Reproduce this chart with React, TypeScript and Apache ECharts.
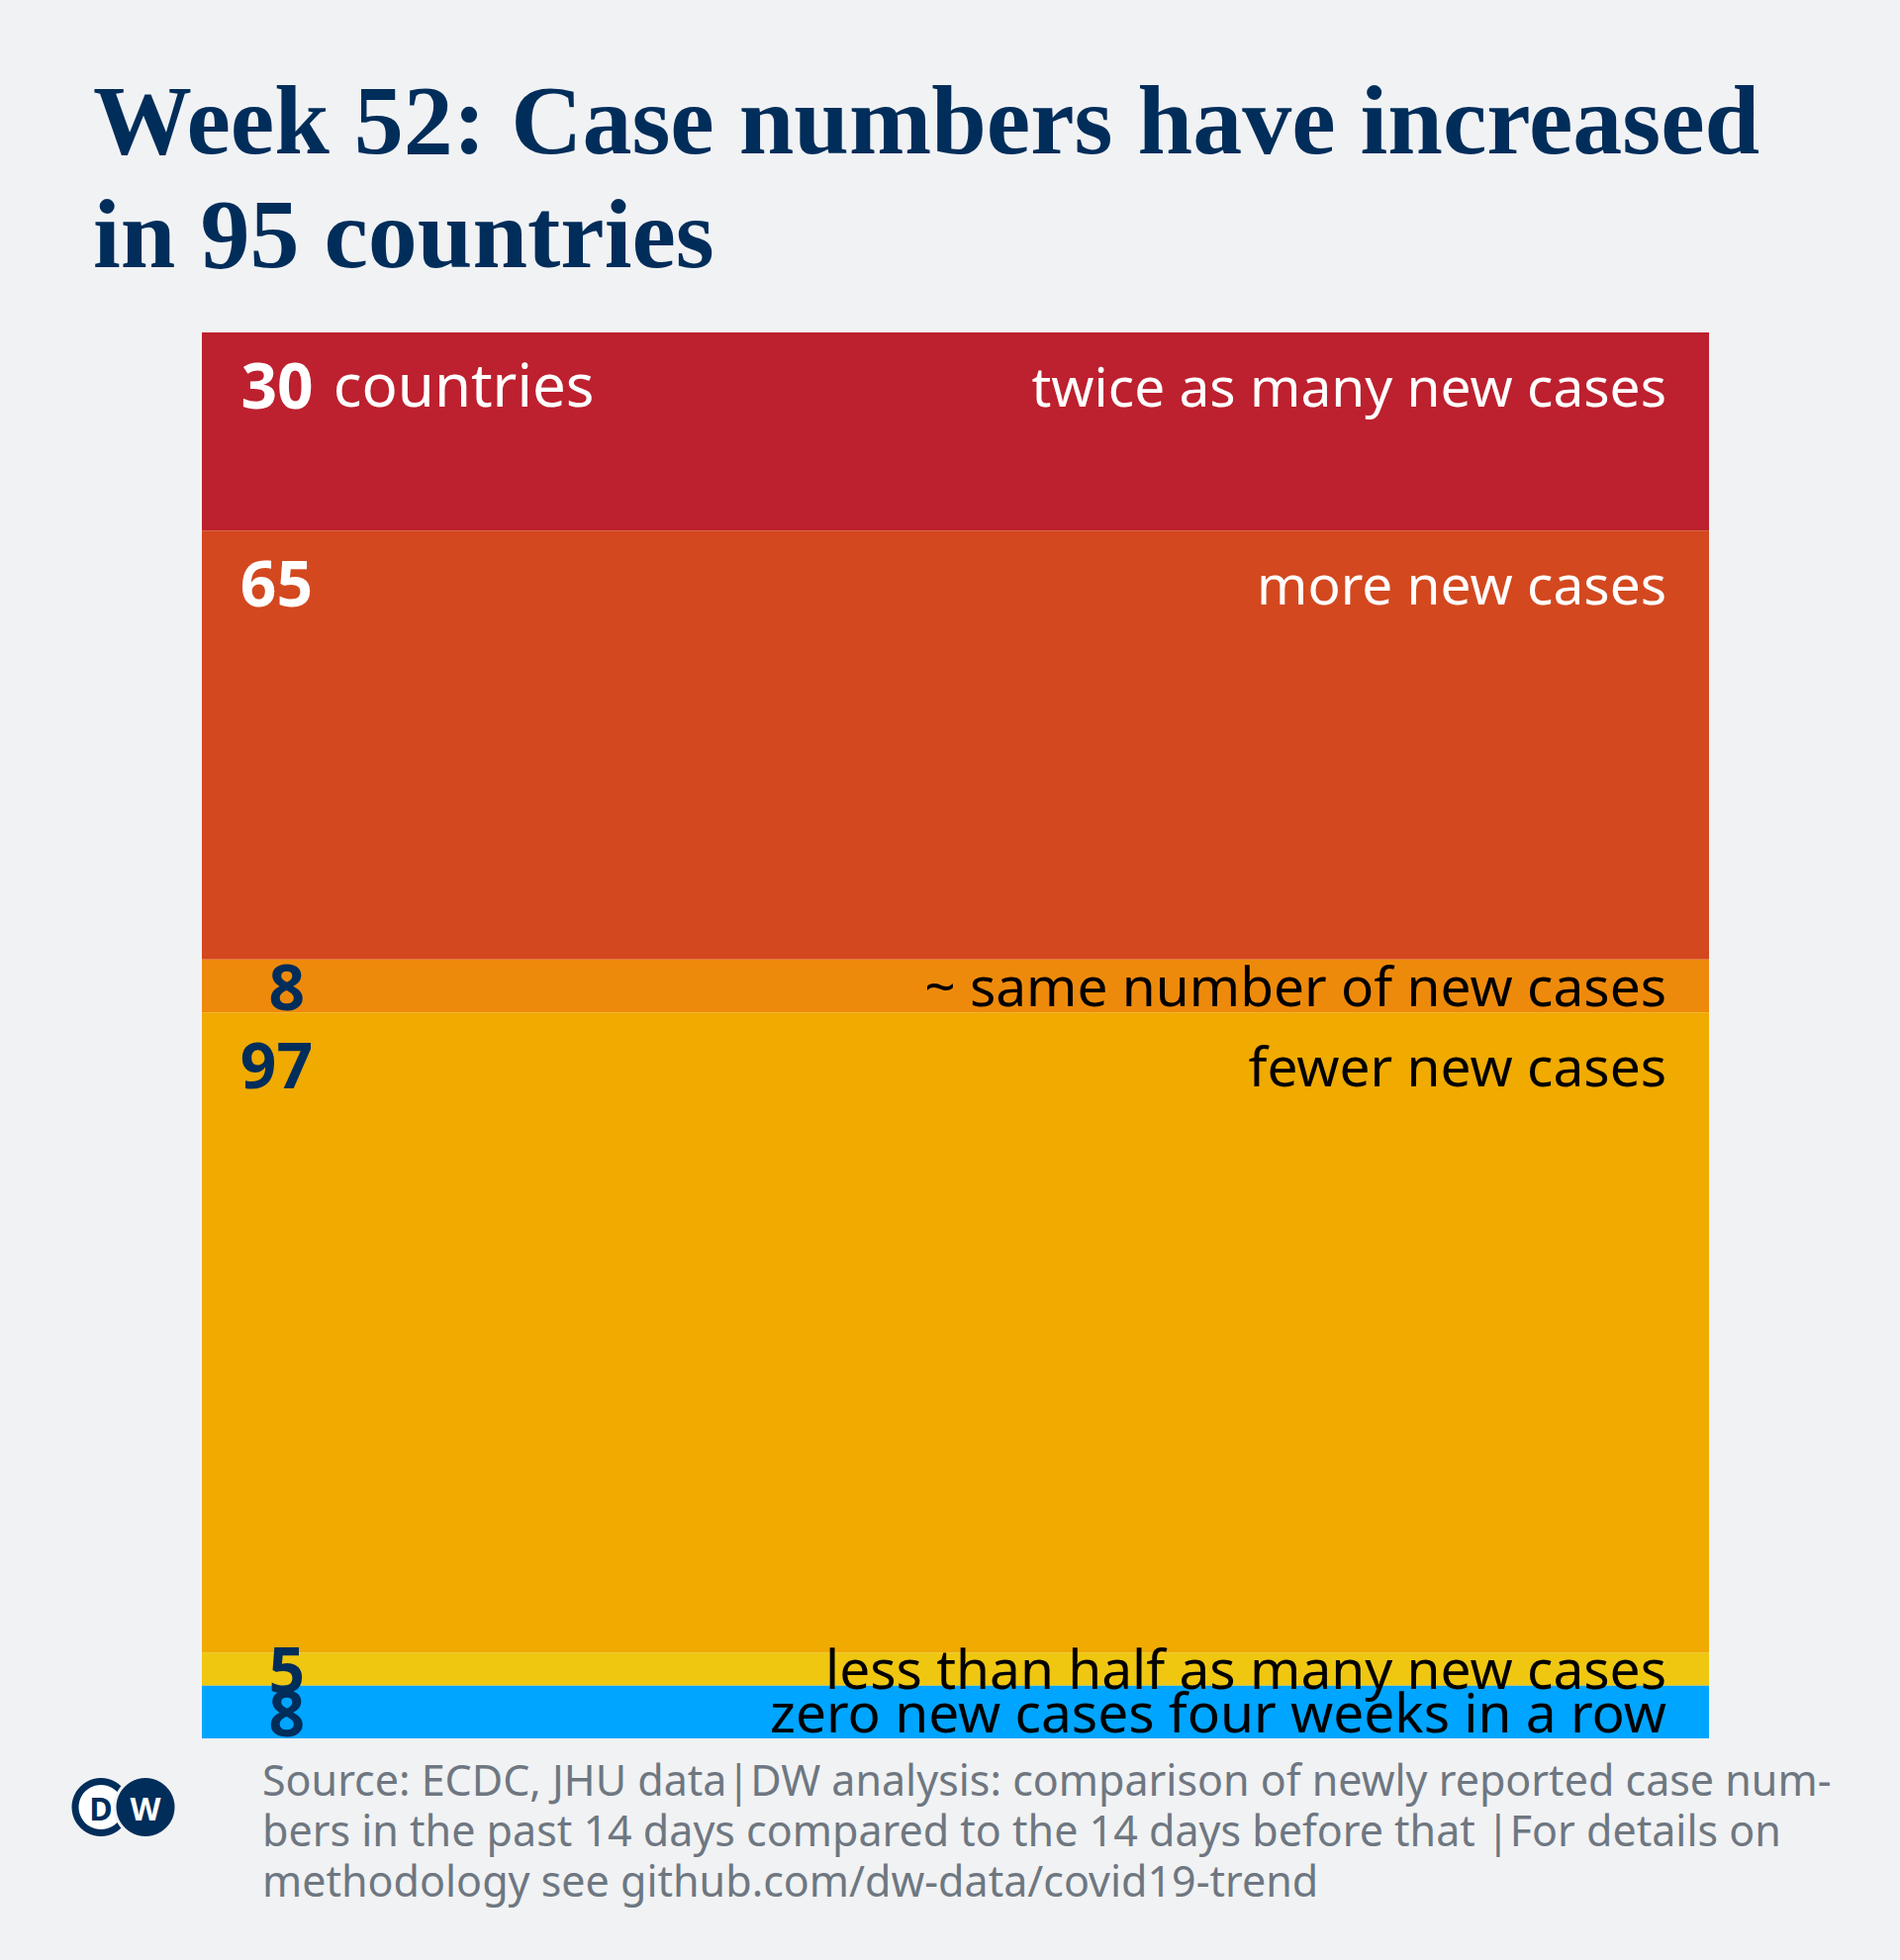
import React, { useEffect, useRef } from "react";
import * as echarts from "echarts";

// ---- data ----
const categories = [
  "twice as many new cases",
  "more new cases",
  "~ same number of new cases",
  "fewer new cases",
  "less than half as many new cases",
  "zero new cases four weeks in a row",
];
const counts = [30, 65, 8, 97, 5, 8];
const titleLines = ["Week 52: Case numbers have increased", "in 95 countries"];
const sourceLines = [
  "Source: ECDC, JHU data|DW analysis: comparison of newly reported case num-",
  "bers in the past 14 days compared to the 14 days before that |For details on",
  "methodology see github.com/dw-data/covid19-trend",
];

// ---- styles ----
const PALETTE = ["#BD202E", "#D3481F", "#EE8A0B", "#F0AA00", "#F0C710", "#00A5FF"];
const NUMBER_COLORS = ["#FFFFFF", "#FFFFFF", "#002D5A", "#002D5A", "#002D5A", "#002D5A"];
const DESC_COLORS = ["#FFFFFF", "#FFFFFF", "#000000", "#000000", "#000000", "#000000"];
const NAVY = "#002D5A";
const BG = "#F1F2F4";
const SANS = "'Noto Sans', 'Open Sans', sans-serif";

export default function App() {
  const ref = useRef<HTMLDivElement>(null);

  useEffect(() => {
    if (!ref.current) return;
    const chart = echarts.init(ref.current, undefined, { renderer: "svg" });
    const total = counts.reduce((a, b) => a + b, 0);

    // coloured segments with the count on the left
    const barSeries = counts.map((c, i) => {
      const twoDigit = String(c).length > 1;
      return {
        type: "bar",
        name: categories[i],
        stack: "segments",
        barWidth: "100%",
        barGap: "-100%",
        z: 2,
        data: [c],
        itemStyle: { color: PALETTE[i] },
        emphasis: { disabled: true },
        label: {
          show: true,
          position:
            i === 0
              ? [39.5, 52]
              : c >= 20
              ? [twoDigit ? 112 : 104, 52]
              : [twoDigit ? 112 : 104, "50%"],
          align: i === 0 ? "left" : "right",
          verticalAlign: "middle",
          fontFamily: SANS,
          fontWeight: "bold",
          fontSize: 64,
          color: NUMBER_COLORS[i],
          formatter: i === 0 ? `{n|${c}}{c|countries}` : `${c}`,
          rich:
            i === 0
              ? {
                  n: { fontFamily: SANS, fontWeight: "bold", fontSize: 64, color: NUMBER_COLORS[i] },
                  c: {
                    fontFamily: SANS,
                    fontWeight: "normal",
                    fontSize: 60,
                    color: NUMBER_COLORS[i],
                    padding: [0, 0, 0, 20],
                  },
                }
              : undefined,
        },
      };
    });

    // transparent overlay stack carrying the right-hand descriptions
    const descSeries = counts.map((c, i) => ({
      type: "bar",
      name: categories[i] + " label",
      stack: "descriptions",
      barWidth: "100%",
      barGap: "-100%",
      z: 3,
      silent: true,
      data: [c],
      itemStyle: { color: "rgba(0,0,0,0)" },
      emphasis: { disabled: true },
      label: {
        show: true,
        position: c >= 20 ? ["100%", 54] : ["100%", "50%"],
        offset: [-43, -1],
        align: "right",
        verticalAlign: "middle",
        fontFamily: SANS,
        fontWeight: "normal",
        fontSize: 55,
        color: DESC_COLORS[i],
        formatter: categories[i],
      },
    }));

    chart.setOption({
      animation: false,
      backgroundColor: BG,
      title: {
        text: titleLines.join("\n"),
        left: 89,
        top: 59,
        textStyle: {
          fontFamily: "'Liberation Serif', serif",
          fontWeight: "bold",
          fontSize: 100,
          lineHeight: 115,
          color: NAVY,
        },
      },
      grid: { left: 204, right: 193, top: 336, bottom: 224, containLabel: false },
      xAxis: { type: "category", data: ["countries"], show: false },
      yAxis: { type: "value", inverse: true, min: 0, max: total, show: false },
      series: [...barSeries, ...descSeries],
      graphic: [
        {
          type: "text",
          left: 265,
          top: 1773,
          style: {
            text: sourceLines.join("\n"),
            fill: "#6E7781",
            fontFamily: SANS,
            fontSize: 43,
            lineHeight: 51,
          },
        },
        {
          type: "group",
          silent: true,
          children: [
            { type: "circle", shape: { cx: 102, cy: 1826.5, r: 29.5 }, style: { fill: NAVY } },
            { type: "circle", shape: { cx: 102, cy: 1826.5, r: 22.5 }, style: { fill: "#FFFFFF" } },
            { type: "circle", shape: { cx: 147, cy: 1826.5, r: 32.5 }, style: { fill: BG } },
            { type: "circle", shape: { cx: 147, cy: 1826.5, r: 29.5 }, style: { fill: NAVY } },
            {
              type: "text",
              x: 102,
              y: 1827,
              style: {
                text: "D",
                fill: NAVY,
                fontFamily: SANS,
                fontWeight: "bold",
                fontSize: 32,
                align: "center",
                verticalAlign: "middle",
              },
            },
            {
              type: "text",
              x: 147,
              y: 1827,
              style: {
                text: "W",
                fill: "#FFFFFF",
                fontFamily: SANS,
                fontWeight: "bold",
                fontSize: 32,
                align: "center",
                verticalAlign: "middle",
              },
            },
          ],
        },
      ],
    });

    return () => chart.dispose();
  }, []);

  return (
    <div
      ref={ref}
      style={{ position: "absolute", left: 0, top: 0, width: 1920, height: 1981 }}
    />
  );
}
